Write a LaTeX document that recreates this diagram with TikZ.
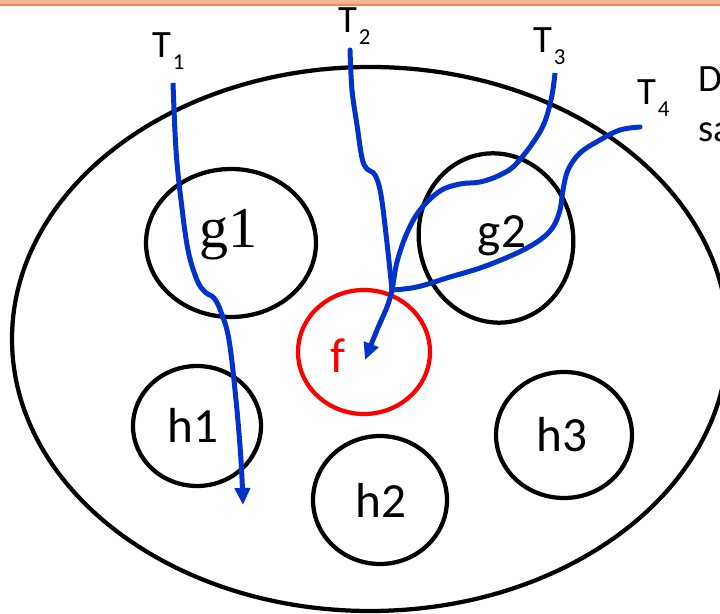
\documentclass[tikz,border=0pt]{standalone}
\usepackage{fontspec}
\newfontfamily\calib{Carlito}
\newfontfamily\cambr{Liberation Serif}
\usepackage{tikz}
\usetikzlibrary{arrows.meta,shapes.geometric}
\definecolor{ink}{HTML}{0033CC}
\definecolor{fred}{HTML}{FF0000}
\definecolor{peach}{HTML}{F9B591}
\definecolor{rust}{HTML}{EE8A4A}
\tikzset{ring/.style={draw=black,line width=0.085cm,ellipse,inner sep=0pt},hot/.style={ring,draw=fred},lbl/.style={font=\calib\fontsize{28}{30}\selectfont,inner sep=0pt,anchor=base},serif/.style={lbl,font=\cambr\fontsize{33}{35}\selectfont},tlbl/.style={font=\calib\fontsize{22}{24}\selectfont,inner sep=0pt,anchor=base west},flow/.style={draw=ink,line width=0.1cm,line cap=round},arr/.style={flow,line cap=butt,-{Triangle[length=3.4mm,width=3mm]}}}
\newcommand{\tsub}[1]{\hspace{1pt}\raisebox{-6.8pt}{\fontsize{13}{13}\selectfont #1}}

\begin{document}
\begin{tikzpicture}[x=0.02cm,y=-0.02cm]
\clip (0,0) rectangle (720,614);
\fill[peach] (0,0) rectangle (720,5);
\draw[rust,line width=0.04cm] (0,5.5) -- (720,5.5);
\draw[line width=0.085cm] (370,339) ellipse [x radius=358,y radius=272];
\node[ring,minimum width=3.4cm,minimum height=2.96cm] (g1) at (231,243) {};
\node[ring,minimum width=3.08cm,minimum height=3.4cm,rotate=12] (g2) at (496,238) {};
\node[hot,minimum width=2.64cm,minimum height=2.48cm] (f) at (364,352) {};
\node[ring,minimum width=2.56cm,minimum height=2.4cm] (h1) at (197,426) {};
\node[ring,minimum width=2.68cm,minimum height=2.56cm] (h2) at (380,500) {};
\node[ring,minimum width=2.72cm,minimum height=2.52cm] (h3) at (564,435) {};
\node[serif] (g1t) at (228,248) {g1};
\node[lbl] (g2t) at (502,248) {g2};
\node[lbl,text=fred] (ft) at (338,373) {f};
\node[lbl] (h1t) at (193,443) {h1};
\node[lbl] (h2t) at (381,518) {h2};
\node[lbl] (h3t) at (562,452) {h3};
\node[tlbl] (T1) at (152,58) {T\tsub{1}};
\node[tlbl] (T2) at (338,33) {T\tsub{2}};
\node[tlbl] (T3) at (533,53) {T\tsub{3}};
\node[tlbl] (T4) at (637,105) {T\tsub{4}};
\node[tlbl] (note1) at (698,92) {D};
\node[tlbl] (note2) at (698,142) {sa};
\coordinate (s1) at (173,83);
\coordinate (s2) at (350,50);
\coordinate (s3) at (555,73);
\coordinate (s4) at (640,127);
\coordinate (j) at (392,290);
\coordinate (e1) at (243,505);
\coordinate (ef) at (365,360);
\draw[arr] plot[smooth,tension=0.6] coordinates {(s1) (176,150) (181,200) (188,250) (197,280) (205,292) (214,298) (221,312) (229,340) (236,400) (241,460) (e1)};
\draw[flow] plot[smooth,tension=0.6] coordinates {(s2) (352,90) (357,125) (362,158) (367,169) (375,175) (381,195) (387,243) (j)};
\draw[arr] plot[smooth,tension=0.6] coordinates {(s3) (551,100) (541,130) (517,163) (500,175) (480,182) (460,184) (440,191) (420,210) (407,233) (397,262) (j) (387,307) (377,330) (ef)};
\draw[flow] plot[smooth,tension=0.6] coordinates {(s4) (620,130) (600,140) (580,153) (568,170) (563,190) (560,210) (553,227) (540,240) (517,253) (483,267) (450,277) (417,287) (j)};
\end{tikzpicture}
\end{document}
